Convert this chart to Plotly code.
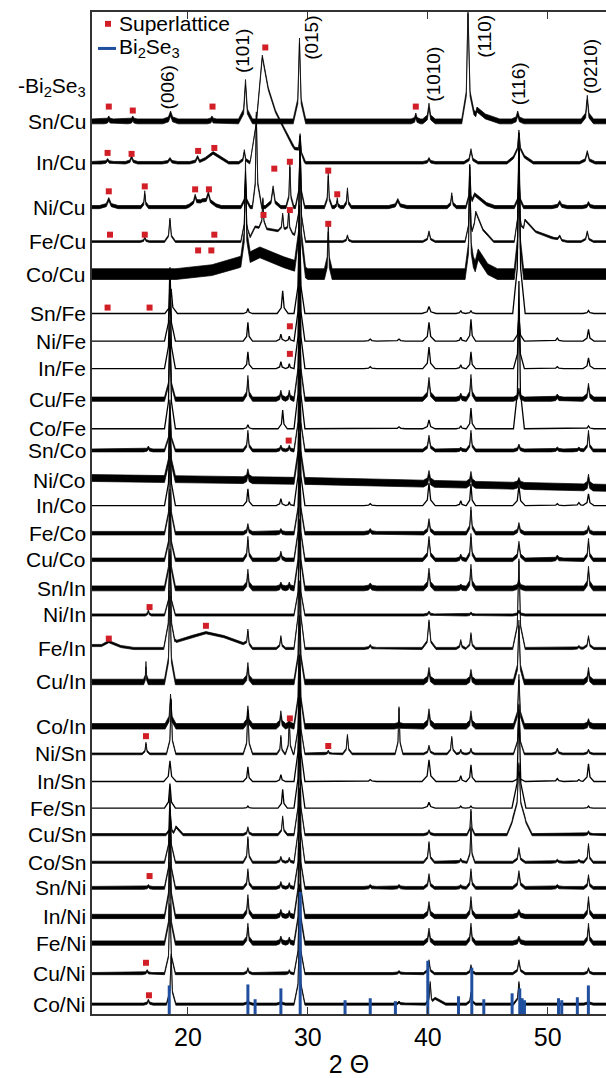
import numpy as np
import plotly.graph_objects as go

# ---------------- data ----------------
X_RANGE = [12.0, 54.86]          # 2-theta axis range
Y_RANGE = [0, 1017]              # stacking units
X_TICKS = [20, 30, 40, 50]

SAMPLES = ["Sn/Cu", "In/Cu", "Ni/Cu", "Fe/Cu", "Co/Cu",
           "Sn/Fe", "Ni/Fe", "In/Fe", "Cu/Fe", "Co/Fe",
           "Sn/Co", "Ni/Co", "In/Co", "Fe/Co", "Cu/Co",
           "Sn/In", "Ni/In", "Fe/In", "Cu/In", "Co/In",
           "Ni/Sn", "In/Sn", "Fe/Sn", "Cu/Sn", "Co/Sn",
           "Sn/Ni", "In/Ni", "Fe/Ni", "Cu/Ni", "Co/Ni"]

OFFSETS = [906, 864, 819, 784, 751,
           711, 683, 655, 624, 594,
           572, 541, 516, 488, 461,
           432, 405, 371, 337, 292,
           264, 236, 209, 182, 154,
           128, 99, 72, 41, 10]

# peak table per sample: (2theta, height) / (2theta, height, halfwidth) / (2theta, height, left, right)
PEAKS = {
    "Sn/Cu": [(13.4, 3, 0.3), (15.4, 3, 0.3), (18.55, 8, 0.5), (22.0, 3, 0.3), (24.8, 40, 0.45),
              (29.3, 82, 0.4), (39.0, 6, 0.3), (40.1, 16, 0.4), (43.35, 112, 0.4, 0.5),
              (47.5, 8, 0.4), (53.3, 24, 0.4)],
    "In/Cu": [(13.3, 3, 0.4), (15.3, 6, 0.4), (18.5, 4, 0.5), (20.8, 6, 0.5), (24.7, 12, 0.35),
              (29.35, 22, 0.35), (40.1, 4, 0.4), (43.6, 13, 0.45), (47.6, 22, 0.35), (53.3, 11, 0.5)],
    "Ni/Cu": [(13.4, 8, 0.6), (16.4, 15, 0.25), (20.6, 8, 0.4), (21.7, 10, 0.5), (24.8, 27, 0.3),
              (25.7, 95, 0.25, 0.35), (27.1, 20, 0.5), (28.5, 42, 0.25), (29.35, 65, 0.3),
              (31.7, 33, 0.25), (32.45, 8, 0.2), (33.3, 18, 0.25), (37.5, 7, 0.6), (42.0, 13, 0.3),
              (43.5, 42, 0.25, 0.3), (47.6, 30, 0.3), (51.0, 5, 0.5), (53.4, 4, 0.4)],
    "Fe/Cu": [(16.4, 4, 0.3), (18.5, 23, 0.35), (24.8, 70, 0.3), (26.25, 30, 0.25), (27.9, 18, 0.3),
              (28.4, 23, 0.25), (29.35, 100, 0.35), (33.3, 6, 0.3), (40.1, 10, 0.4),
              (43.5, 65, 0.3), (47.6, 95, 0.3), (51.0, 5, 0.5), (53.3, 10, 0.4)],
    "Co/Cu": [(24.8, 95, 0.3), (29.35, 130, 0.35), (31.7, 48, 0.25), (43.5, 105, 0.3, 0.35),
              (47.6, 130, 0.3)],
    "Sn/Fe": [(18.6, 25, 0.4), (25.0, 5, 0.3), (27.9, 23, 0.35), (29.3, 110, 0.35), (40.1, 7, 0.45),
              (42.75, 3, 0.3), (43.6, 3, 0.3), (47.6, 183, 0.4), (53.4, 3, 0.35)],
    "Ni/Fe": [(18.5, 75), (25.0, 19, 0.3), (27.75, 7, 0.3), (28.45, 5, 0.25), (29.3, 120),
              (35.2, 2, 0.4), (37.6, 2, 0.4), (40.1, 19, 0.4), (42.75, 4, 0.3), (43.6, 22, 0.3),
              (47.6, 25), (50.8, 3, 0.4), (53.4, 12)],
    "In/Fe": [(18.5, 90), (25.0, 17, 0.3), (27.75, 7, 0.3), (28.45, 5, 0.25), (29.3, 130),
              (35.2, 2, 0.4), (40.1, 22, 0.4), (42.75, 4, 0.3), (43.6, 17, 0.3), (47.6, 60),
              (50.8, 2, 0.4), (53.4, 11)],
    "Cu/Fe": [(18.5, 60), (25.0, 22, 0.3), (27.75, 7, 0.3), (28.45, 7, 0.25), (29.3, 120),
              (40.1, 20, 0.4), (42.75, 4, 0.3), (43.6, 23, 0.3), (47.6, 9), (50.8, 3, 0.4), (53.4, 14)],
    "Co/Fe": [(18.5, 110), (25.0, 4, 0.3), (27.9, 19, 0.3), (29.3, 140), (37.6, 2, 0.4),
              (40.1, 9, 0.4), (42.75, 3, 0.3), (43.6, 21, 0.3), (47.6, 150), (53.4, 3)],
    "Sn/Co": [(16.7, 3, 0.3), (18.5, 50), (25.0, 19, 0.3), (27.75, 4, 0.3), (28.45, 4, 0.25),
              (29.3, 110), (40.1, 14, 0.4), (42.75, 2, 0.3), (43.6, 19, 0.3), (47.6, 5),
              (50.8, 2, 0.4), (52.6, 2, 0.4), (53.4, 19, 0.3)],
    "Ni/Co": [(18.5, 70), (25.0, 8, 0.3), (29.3, 110), (40.1, 10), (43.6, 10, 0.3), (47.6, 5),
              (53.4, 10, 0.3)],
    "In/Co": [(18.5, 90), (25.0, 17, 0.3), (27.75, 7, 0.3), (28.45, 4, 0.25), (29.3, 120),
              (35.2, 2, 0.4), (40.1, 23, 0.4), (42.75, 5, 0.3), (43.6, 22, 0.3), (47.6, 20, 0.4),
              (50.8, 2, 0.4), (52.6, 3, 0.4), (53.4, 12)],
    "Fe/Co": [(18.5, 80), (25.0, 8, 0.3), (27.75, 3, 0.3), (29.3, 100), (35.2, 3, 0.4),
              (40.1, 13), (43.6, 25, 0.3), (47.6, 9), (53.4, 6, 0.3)],
    "Cu/Co": [(18.5, 70), (25.0, 22, 0.3), (27.75, 7, 0.3), (29.3, 110), (40.1, 22, 0.4),
              (42.75, 4, 0.3), (43.6, 25, 0.3), (47.6, 17, 0.4), (50.8, 3, 0.4), (53.4, 20, 0.3)],
    "Sn/In": [(18.5, 80), (25.0, 17, 0.3), (27.75, 4, 0.3), (28.45, 4, 0.25), (29.3, 110),
              (35.2, 3, 0.4), (40.1, 18), (42.75, 2, 0.3), (43.6, 22, 0.3), (47.6, 6, 0.4),
              (53.4, 20, 0.3)],
    "Ni/In": [(16.7, 5, 0.2), (18.5, 60), (29.3, 90), (40.1, 3), (43.6, 2, 0.3), (47.6, 4, 0.4)],
    "Fe/In": [(18.5, 100, 0.4), (25.0, 17, 0.3), (27.75, 12, 0.3), (29.3, 130), (35.2, 3, 0.4),
              (40.1, 28, 0.45), (42.75, 8, 0.3), (43.6, 15, 0.3), (47.6, 90, 0.4), (52.6, 2, 0.4),
              (53.4, 12)],
    "Cu/In": [(16.5, 18, 0.15), (18.5, 90), (25.0, 17, 0.3), (29.3, 100), (40.1, 12),
              (43.6, 10, 0.3), (47.6, 60), (53.4, 12, 0.3)],
    "Co/In": [(18.55, 30), (25.0, 18, 0.3), (27.75, 13, 0.3), (28.45, 5, 0.25), (29.3, 110),
              (37.6, 3, 0.3), (40.1, 15), (43.6, 13, 0.3), (47.6, 50), (53.4, 5, 0.3)],
    "Ni/Sn": [(16.5, 11, 0.25), (18.6, 55, 0.3), (25.0, 44, 0.3), (27.75, 18, 0.25), (28.45, 35, 0.25),
              (29.3, 100), (31.7, 3, 0.25), (33.3, 19, 0.3), (37.6, 47, 0.25), (40.1, 8),
              (42.0, 17, 0.3), (42.75, 4, 0.25), (43.6, 5, 0.25), (47.6, 50), (50.8, 5), (53.4, 4, 0.3)],
    "In/Sn": [(18.5, 21, 0.4), (25.0, 15, 0.3), (27.75, 7, 0.3), (29.3, 120), (35.2, 2, 0.4),
              (40.1, 22, 0.45), (42.75, 6, 0.3), (43.6, 17, 0.3), (47.6, 10, 0.4), (50.8, 3, 0.4),
              (52.6, 2, 0.4), (53.4, 18)],
    "Fe/Sn": [(18.5, 25), (25.0, 2, 0.3), (27.9, 19, 0.3), (29.3, 120), (40.1, 6, 0.4),
              (42.75, 2, 0.3), (43.6, 2, 0.3), (47.6, 100, 0.45), (53.4, 2, 0.3)],
    "Cu/Sn": [(18.55, 18, 0.3), (25.0, 7, 0.3), (27.9, 18, 0.3), (29.3, 110), (40.1, 4),
              (43.6, 25, 0.25), (47.6, 50, 0.45), (53.4, 3, 0.3)],
    "Co/Sn": [(18.5, 70), (25.0, 25, 0.3), (27.75, 5, 0.3), (28.45, 4, 0.25), (29.3, 120),
              (40.1, 20), (42.75, 3, 0.3), (43.6, 35, 0.25), (47.6, 14, 0.4), (50.8, 2, 0.4),
              (52.6, 2, 0.4), (53.4, 18, 0.3)],
    "Sn/Ni": [(16.7, 2, 0.3), (18.5, 80), (25.0, 18, 0.3), (27.75, 5, 0.3), (28.45, 4, 0.25),
              (29.3, 100), (35.2, 2, 0.4), (37.6, 2, 0.4), (40.1, 13), (42.75, 2, 0.3),
              (43.6, 18, 0.3), (47.6, 16, 0.4), (50.8, 2, 0.4), (53.4, 12, 0.3)],
    "In/Ni": [(18.5, 90), (25.0, 20, 0.3), (27.75, 5, 0.3), (28.45, 4, 0.25), (29.3, 110),
              (40.1, 13), (43.6, 18, 0.3), (47.6, 5, 0.4), (53.4, 18, 0.3)],
    "Fe/Ni": [(18.5, 80), (25.0, 18, 0.3), (27.75, 5, 0.3), (28.45, 4, 0.25), (29.3, 100),
              (40.1, 13), (43.6, 18, 0.3), (47.6, 5, 0.4), (53.4, 18, 0.3)],
    "Cu/Ni": [(16.6, 3, 0.3), (18.5, 70), (25.0, 5, 0.3), (28.45, 3, 0.25), (29.3, 90),
              (37.6, 2, 0.4), (40.1, 13), (43.6, 8, 0.3), (47.6, 13, 0.4), (53.4, 5, 0.3)],
    "Co/Ni": [(16.7, 4, 0.3), (18.6, 50, 0.3), (25.0, 4, 0.3), (27.75, 3, 0.3), (29.3, 80),
              (37.6, 2, 0.4), (40.2, 22, 0.3), (43.6, 11, 0.3), (47.6, 22), (53.4, 4, 0.3)],
}

# broad features / tails / background as (2theta, height) vertices
BROAD = {
    "Sn/Cu": [[(43.85, 0), (44.1, 12), (44.8, 5), (46.0, 0)]],
    "In/Cu": [[(21.0, 0), (22.1, 10), (23.4, 0)],
              [(25.2, 0), (25.7, 40), (26.2, 108), (26.7, 75), (27.3, 52), (28.0, 35), (28.7, 18), (29.7, 0)],
              [(46.6, 0), (47.6, 10), (48.8, 0)]],
    "Ni/Cu": [[(19.8, 0), (21.2, 6), (22.8, 0)], [(43.7, 0), (43.9, 13), (44.9, 3), (45.6, 0)]],
    "Fe/Cu": [[(25.0, 0), (25.6, 15), (27.0, 12), (28.8, 8), (29.6, 0)],
              [(43.7, 0), (44.0, 30), (44.6, 12), (45.5, 0)],
              [(47.8, 0), (48.1, 22), (49.0, 10), (50.5, 3), (51.2, 0)]],
    "Co/Cu": [[(19.0, 0), (22.0, 4), (24.3, 12), (26.0, 22), (28.0, 12), (29.0, 8), (30.0, 0)],
              [(43.8, 0), (44.2, 20), (45.0, 5), (45.8, 0)]],
    "Ni/Co": [[(12.0, 3), (30.0, 0), (55.0, -7)]],
    "Fe/In": [[(12.0, 3), (12.8, 3), (13.4, 7), (14.4, 2), (15.5, 0)],
              [(18.9, 0), (19.0, 7), (20.3, 12), (21.5, 16), (23.0, 12), (24.6, 5), (25.2, 0)]],
    "Cu/Sn": [[(18.8, 0), (19.0, 8), (19.6, 0)],
              [(46.6, 0), (47.1, 15), (47.6, 22), (48.1, 15), (48.7, 0)]],
    "Co/Ni": [[(40.4, 0), (40.6, 6), (41.5, 0)]],
}

# superlattice reflections (2theta, stacked position)
SL_X = [13.4, 15.4, 22.05, 39.0, 26.45,
        13.3, 15.3, 20.85, 22.2,
        13.4, 16.4, 20.6, 21.75, 27.2, 28.5, 31.7, 32.45,
        13.5, 16.4, 22.2, 26.3, 28.5,
        20.85, 21.95, 31.7,
        13.3, 16.8, 28.5, 28.5, 28.4, 16.8, 13.4, 21.5, 28.5,
        16.5, 31.7, 16.8, 16.5, 16.75]
SL_Y = [921, 917, 921, 921, 981,
        874, 873, 876, 879,
        835, 840, 837, 837, 858, 865, 856, 832,
        791, 791, 791, 811, 816,
        775, 775, 802,
        717, 717, 698, 670, 582, 413, 381, 394, 300,
        282, 272, 140, 52, 19]

# Bi2Se3 reference pattern (2theta, stick height)
REF_X = [18.44, 25.0, 25.6, 27.75, 29.36, 33.1, 35.2, 37.3, 40.0, 42.56,
         43.67, 44.67, 47.03, 47.67, 47.87, 48.06, 50.9, 51.17, 52.47, 53.39]
REF_H = [29, 30, 15, 26, 124, 14, 16, 13, 54, 18,
         47, 15, 21, 26, 16, 14, 16, 14, 17, 29]

HKL_TEXT = ["(006)", "(101)", "(015)", "(1010)", "(110)", "(116)", "(0210)"]
HKL_X = [18.3, 24.56, 30.28, 40.4, 44.7, 47.64, 53.5]
HKL_Y = [940, 977, 991, 954, 992, 944, 962]

TOP_LABEL = "-Bi<sub>2</sub>Se<sub>3</sub>"
TOP_LABEL_Y = 941

# ---------------- style ----------------
NOISE = {"Sn/Cu": 2.5, "In/Cu": 1.3, "Ni/Cu": 1.6, "Fe/Cu": 0.9, "Co/Cu": 5.5,
         "Cu/Fe": 2.2, "Sn/Co": 1.5, "Ni/Co": 3.5, "Fe/Co": 1.8, "Cu/Co": 1.8,
         "Sn/In": 2.5, "Ni/In": 1.1, "Fe/In": 1.1, "Cu/In": 2.8, "Co/In": 2.8,
         "Ni/Sn": 0.9, "Cu/Sn": 1.1, "Co/Sn": 1.1, "Sn/Ni": 1.5, "In/Ni": 2.2,
         "Fe/Ni": 2.2, "Cu/Ni": 1.1, "Co/Ni": 1.1}
# peak outline (relative position, relative height) - narrow top, wider foot
PROFILE = [(-1.3, 0.0), (-0.35, 0.25), (0.0, 1.0), (0.35, 0.25), (1.3, 0.0)]
FONT = "Liberation Sans, Arial, Helvetica, sans-serif"
BLUE = "#1f4f9e"
RED = "#d21f27"
DEFAULT_HW = 0.35


def pattern(name):
    feats = []
    for p in PEAKS.get(name, []):
        if len(p) == 2:
            c, h = p
            wl = wr = DEFAULT_HW
        elif len(p) == 3:
            c, h, w = p
            wl = wr = w
        else:
            c, h, wl, wr = p
        fx = [c + r * (wl if r < 0 else wr) for r, _ in PROFILE]
        fy = [f * h for _, f in PROFILE]
        feats.append((fx, fy))
    for b in BROAD.get(name, []):
        feats.append(([v[0] for v in b], [v[1] for v in b]))
    xs = np.array(sorted(set([12.0, 55.0] + [x for f in feats for x in f[0]])))
    ys = np.zeros_like(xs)
    for fx, fy in feats:
        ys += np.interp(xs, fx, fy, left=0.0, right=0.0)
    return xs, ys


fig = go.Figure()

for name, off in zip(SAMPLES, OFFSETS):
    xs, ys = pattern(name)
    amp = NOISE.get(name, 0)
    if amp > 0.8:
        px = np.concatenate([xs, xs[::-1]])
        py = np.concatenate([ys + off + amp, (ys + off - amp)[::-1]])
        fig.add_trace(go.Scatter(x=px, y=py, mode="lines", fill="toself",
                                 fillcolor="black", line=dict(color="black", width=0.7),
                                 hoverinfo="skip", showlegend=False))
    else:
        fig.add_trace(go.Scatter(x=xs, y=ys + off, mode="lines",
                                 line=dict(color="black", width=1.3),
                                 hoverinfo="skip", showlegend=False))

# Bi2Se3 sticks
sx, sy = [], []
for x, h in zip(REF_X, REF_H):
    sx += [x, x, None]
    sy += [0, h, None]
fig.add_trace(go.Scatter(x=sx, y=sy, mode="lines", line=dict(color=BLUE, width=3),
                         name="Bi<sub>2</sub>Se<sub>3</sub>", showlegend=False, hoverinfo="skip"))

# superlattice markers
fig.add_trace(go.Scatter(x=SL_X, y=SL_Y, mode="markers",
                         marker=dict(symbol="square", size=6, color=RED),
                         name="Superlattice", showlegend=False, hoverinfo="skip"))

annotations = []
for name, off in zip(SAMPLES, OFFSETS):
    annotations.append(dict(text=name, x=0, xref="paper", y=off, yref="y",
                            xanchor="right", yanchor="middle", xshift=-4, showarrow=False,
                            font=dict(size=21, color="black", family=FONT)))
annotations.append(dict(text=TOP_LABEL, x=0, xref="paper", y=TOP_LABEL_Y, yref="y",
                        xanchor="right", yanchor="middle", xshift=-4, showarrow=False,
                        font=dict(size=21, color="black", family=FONT)))
for t, x, y in zip(HKL_TEXT, HKL_X, HKL_Y):
    annotations.append(dict(text=t, x=x, y=y, xref="x", yref="y", textangle=-90,
                            showarrow=False, xanchor="center", yanchor="middle",
                            font=dict(size=19, color="black", family=FONT)))

# manual legend
PW = 606 - 92
annotations.append(dict(text="Superlattice", x=(117 - 92) / PW, xref="paper", y=1005, yref="y",
                        xanchor="left", yanchor="middle", showarrow=False,
                        font=dict(size=21, color="black", family=FONT)))
annotations.append(dict(text="Bi<sub>2</sub>Se<sub>3</sub>", x=(117 - 92) / PW, xref="paper", y=980,
                        yref="y", xanchor="left", yanchor="middle", showarrow=False,
                        font=dict(size=21, color="black", family=FONT)))
shapes = [
    dict(type="rect", xref="paper", yref="y", x0=(105 - 92) / PW, x1=(111 - 92) / PW,
         y0=1002, y1=1008, fillcolor=RED, line=dict(width=0)),
    dict(type="line", xref="paper", yref="y", x0=(98 - 92) / PW, x1=(116 - 92) / PW,
         y0=980, y1=980, line=dict(color=BLUE, width=3)),
]

fig.update_layout(
    width=606, height=1078, autosize=False,
    margin=dict(l=92, r=0, t=12, b=49),
    paper_bgcolor="white", plot_bgcolor="white",
    showlegend=False,
    annotations=annotations, shapes=shapes,
    xaxis=dict(range=X_RANGE, tickvals=X_TICKS, ticks="inside", ticklen=7, tickwidth=1,
               tickcolor="#333", showline=True, linecolor="#333", linewidth=1.5, mirror="ticks",
               showgrid=False, zeroline=False,
               tickfont=dict(size=25, color="black", family=FONT),
               title=dict(text="2 Θ", font=dict(size=25, color="black", family=FONT), standoff=10)),
    yaxis=dict(range=Y_RANGE, showticklabels=False, ticks="", showline=True, linecolor="#333",
               linewidth=1.5, showgrid=False, zeroline=False),
)

fig.write_html("out.html")
